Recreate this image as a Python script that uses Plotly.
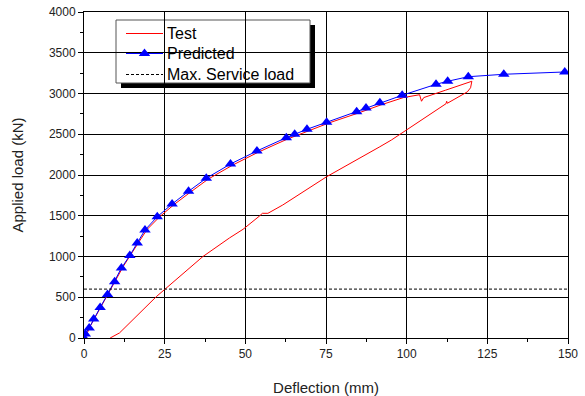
import plotly.graph_objects as go

# Predicted (model) curve
pred_x = [0, 0.4, 1.6, 3.0, 5.0, 7.3, 9.5, 11.6, 14.2, 16.5, 18.9, 22.7, 27.3, 32.4, 37.9,
          45.4, 53.6, 62.7, 65.3, 69.1, 75.2, 84.5, 87.4, 91.7, 98.6, 109.1, 112.7, 119.1,
          130.1, 149.0]
pred_y = [0, 49, 123, 233, 374, 534, 691, 859, 1012, 1166, 1325, 1488, 1644, 1800, 1960,
          2135, 2295, 2458, 2500, 2561, 2647, 2777, 2822, 2887, 2978, 3113, 3150, 3206,
          3236, 3264]

# Test curve (loading then unloading)
test_x = [0, 1, 2, 3.5, 5.5, 7.8, 10, 12.2, 14.6, 17, 19.5, 23.5, 28, 33, 38.5, 46, 54, 63,
          70, 76, 85, 92, 99, 104, 104.6, 105.3, 112, 120.2,
          119.8, 118.8, 112.6, 112.4, 112.2, 95.3, 91.7, 75.2, 61.6, 57.0, 55.3, 54.4, 49.3,
          45.1, 36.8, 25.0, 22.4, 11.0, 9.5, 8.1]
test_y = [0, 60, 150, 260, 400, 560, 720, 880, 1030, 1180, 1330, 1490, 1640, 1790, 1950,
          2120, 2280, 2440, 2550, 2640, 2760, 2860, 2950, 2985, 2905, 2950, 3040, 3150,
          3070, 3020, 2880, 2905, 2875, 2430, 2347, 1979, 1632, 1530, 1530, 1497, 1334,
          1228, 998, 605, 507, 62, 30, 0]

service_x = [0, 150]
service_y = [600, 600]

x_ticks = [0, 25, 50, 75, 100, 125, 150]
y_ticks = [0, 500, 1000, 1500, 2000, 2500, 3000, 3500, 4000]

legend_names = ["Test", "Predicted", "Max. Service load"]

FONT = "Arial, Liberation Sans, sans-serif"
W, H = 585, 396
L, R, T, B = 84, 17, 12, 58
pw, ph = W - L - R, H - T - B
RED, BLUE = "#ff0000", "#0000ff"

def px(xp):
    return (xp - L) / pw

def py(yp):
    return (H - B - yp) / ph

styles = [dict(color=RED, width=1), dict(color=BLUE, width=1),
          dict(color="black", width=1, dash="3px,2px")]

fig = go.Figure()
fig.add_trace(go.Scatter(x=test_x, y=test_y, mode="lines", name=legend_names[0],
                         line=styles[0], showlegend=False))
fig.add_trace(go.Scatter(x=pred_x, y=pred_y, mode="lines+markers", name=legend_names[1],
                         line=styles[1],
                         marker=dict(symbol="triangle-up", size=10, color=BLUE),
                         showlegend=False))
fig.add_trace(go.Scatter(x=service_x, y=service_y, mode="lines", name=legend_names[2],
                         line=styles[2], showlegend=False))

# --- legend samples on a hidden pixel-space overlay axis pair ---
entry_y = [33.5, 53.5, 74.5]
for i, ey in enumerate(entry_y):
    fig.add_trace(go.Scatter(x=[126, 163], y=[ey, ey], mode="lines", line=styles[i],
                             xaxis="x2", yaxis="y2", showlegend=False, hoverinfo="skip"))
fig.add_trace(go.Scatter(x=[144.5], y=[entry_y[1]], mode="markers",
                         marker=dict(symbol="triangle-up", size=10, color=BLUE),
                         xaxis="x2", yaxis="y2", showlegend=False, hoverinfo="skip"))

axis_common = dict(showline=True, linecolor="black", linewidth=1, mirror=True,
                   showgrid=True, gridcolor="black", gridwidth=1, zeroline=False,
                   ticks="outside", ticklen=5, tickcolor="black", tickwidth=1,
                   tickfont=dict(family=FONT, size=12, color="#222"))

fig.update_layout(
    xaxis=dict(range=[0, 150], tickvals=x_ticks,
               minor=dict(dtick=12.5, ticks="outside", ticklen=3, tickcolor="black", showgrid=False),
               title=dict(text="Deflection (mm)", font=dict(family=FONT, size=15, color="#222"),
                          standoff=23),
               **axis_common),
    yaxis=dict(range=[0, 4000], tickvals=y_ticks,
               minor=dict(dtick=250, ticks="outside", ticklen=3, tickcolor="black", showgrid=False),
               title=dict(text="Applied load (kN)", font=dict(family=FONT, size=15, color="#222"),
                          standoff=21),
               **axis_common),
    xaxis2=dict(overlaying="x", range=[L, W - R], visible=False, fixedrange=True),
    yaxis2=dict(overlaying="y", range=[H - B, T], visible=False, fixedrange=True),
)

# --- legend frame with shadow (between gridlines and traces) ---
shapes = [
    dict(type="rect", xref="paper", yref="paper", x0=px(121), x1=px(315), y0=py(88), y1=py(25),
         fillcolor="black", line=dict(width=0), layer="between"),
    dict(type="rect", xref="paper", yref="paper", x0=px(116), x1=px(310), y0=py(83), y1=py(20),
         fillcolor="white", line=dict(color="#555", width=1), layer="between"),
]

annotations = []
for ey, name in zip(entry_y, legend_names):
    annotations.append(dict(x=px(165), y=py(ey), xref="paper", yref="paper", text=name,
                            showarrow=False, xanchor="left", yanchor="middle",
                            font=dict(family=FONT, size=16, color="black")))

fig.update_layout(
    width=W, height=H,
    margin=dict(l=L, r=R, t=T, b=B, autoexpand=False),
    paper_bgcolor="white", plot_bgcolor="white",
    showlegend=False,
    shapes=shapes, annotations=annotations,
)

fig.write_html("out.html", config={"displayModeBar": False},
               post_script="document.body.style.margin='0';")
